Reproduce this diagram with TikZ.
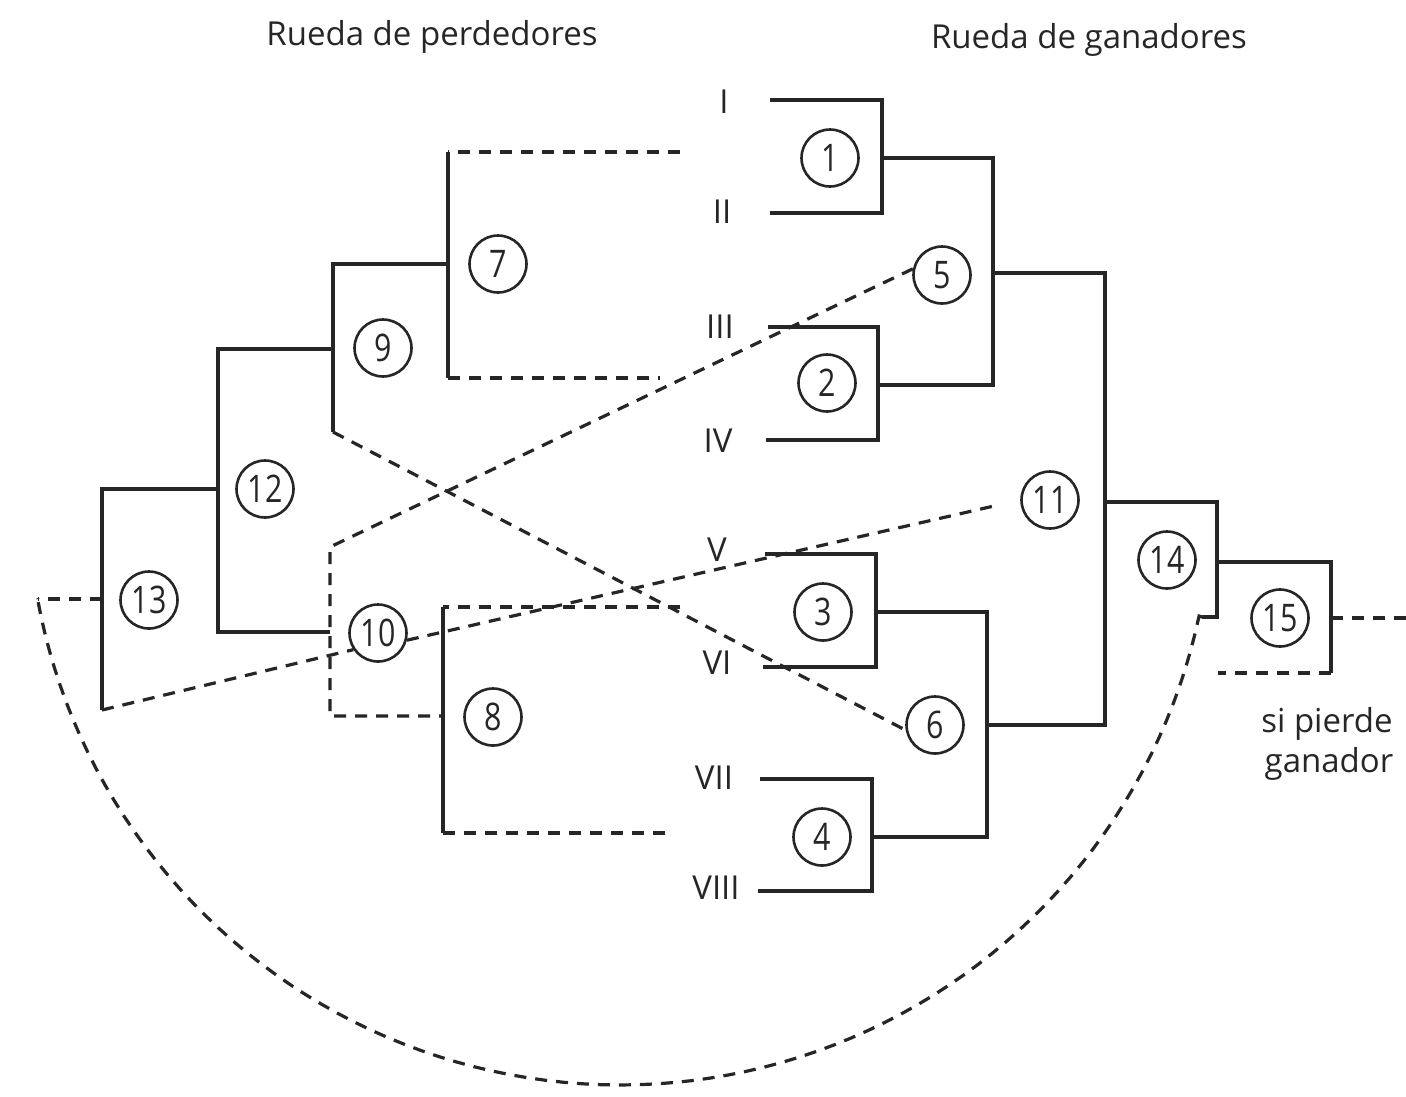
\documentclass[tikz,border=0pt]{standalone}
\usepackage{fontspec}
\setmainfont{Open Sans}
\newfontfamily\numfont[FakeStretch=0.8]{Open Sans}
\begin{document}
\begin{tikzpicture}[x=1pt,y=-1pt, color=black!85,
  bracket/.style={draw, line width=3.2pt, line join=miter},
  link/.style={draw, line width=3.2pt, dash pattern=on 12pt off 9pt},
  match/.style={circle, draw, line width=2.6pt, minimum size=57pt,
    inner sep=0pt, fill=white, font=\numfont\fontsize{38}{38}\selectfont},
  seed/.style={inner sep=0pt, font=\fontsize{33}{33}\selectfont},
  heading/.style={inner sep=0pt, anchor=base, font=\fontsize{33}{40}\selectfont},
  note/.style={inner sep=0pt, anchor=base, font=\fontsize{33}{40}\selectfont}]
\useasboundingbox (0,0) rectangle (1406,1096);

% headings
\node[heading] (hl) at (432,45) {Rueda de perdedores};
\node[heading] (hw) at (1089,48) {Rueda de ganadores};

% seeds
\node[seed] (r1) at (724,102) {I};
\node[seed] (r2) at (722,212) {II};
\node[seed] (r3) at (720,327) {III};
\node[seed] (r4) at (718,441) {IV};
\node[seed] (r5) at (717,550) {V};
\node[seed] (r6) at (717,663) {VI};
\node[seed] (r7) at (714,778) {VII};
\node[seed] (r8) at (716,888) {VIII};

% winners bracket
\coordinate (a1) at (770,100);  \coordinate (b1) at (770,213);
\coordinate (a2) at (768,327);  \coordinate (b2) at (766,440);
\coordinate (a3) at (765,554);  \coordinate (b3) at (763,667);
\coordinate (a4) at (760,779);  \coordinate (b4) at (758,891);
\coordinate (o1) at (882,158);
\coordinate (o2) at (878,385);
\coordinate (o3) at (876,612);
\coordinate (o4) at (872,837);
\coordinate (o5) at (993,273);
\coordinate (o6) at (987,725);
\coordinate (o11) at (1105,502);
\coordinate (o14) at (1217,562);
\coordinate (j14) at (1202,617);
\coordinate (o15) at (1331,618);
\coordinate (k15) at (1331,673);
\coordinate (b15) at (1218,673);
\coordinate (e15) at (1406,618);

\draw[bracket] (a1) -| (o1) |- (b1);
\draw[bracket] (a2) -| (o2) |- (b2);
\draw[bracket] (a3) -| (o3) |- (b3);
\draw[bracket] (a4) -| (o4) |- (b4);
\draw[bracket] (o1) -| (o5) |- (o2);
\draw[bracket] (o3) -| (o6) |- (o4);
\draw[bracket] (o5) -| (o11) |- (o6);
\draw[bracket] (o11) -| (o14) |- (j14);
\draw[bracket] (o14) -| (o15) -- (k15);
\draw[link] (k15) -- (b15);
\draw[link] (o15) -- (e15);

% losers bracket
\coordinate (t7) at (680,152);  \coordinate (c7a) at (448,152);
\coordinate (c7b) at (448,378); \coordinate (u7) at (660,378);
\coordinate (o7) at (448,264);
\coordinate (o9) at (333,349);  \coordinate (c9) at (333,432);
\coordinate (o12) at (218,489); \coordinate (o10) at (330,632);
\coordinate (c10t) at (330,547);
\coordinate (t8) at (680,607);  \coordinate (c8a) at (443,607);
\coordinate (c8b) at (443,833); \coordinate (u8) at (667,833);
\coordinate (o8) at (443,716);
\coordinate (o13) at (102,599); \coordinate (c13b) at (102,710);
\coordinate (c13l) at (38,599);

\draw[link] (t7) -- (c7a);
\draw[bracket] (c7a) -- (c7b);
\draw[link] (c7b) -- (u7);
\draw[bracket] (o7) -| (o9) -- (c9);
\draw[bracket] (o9) -| (o12) |- (o10);
\draw[link] (t8) -- (c8a);
\draw[bracket] (c8a) -- (c8b);
\draw[link] (c8b) -- (u8);
\draw[bracket] (o12) -| (o13) -- (c13b);
\draw[link] (o13) -- (c13l);

% match circles
\node[match] (n1) at (830,158) {1};
\node[match] (n2) at (827,383) {2};
\node[match] (n3) at (823,612) {3};
\node[match] (n4) at (822,837) {4};
\node[match] (n5) at (942,275) {5};
\node[match] (n6) at (935,725) {6};
\node[match] (n7) at (498,264) {7};
\node[match] (n8) at (493,717) {8};
\node[match] (n9) at (383,348) {9};
\node[match] (n10) at (378,633) {10};
\node[match] (n11) at (1050,500) {11};
\node[match] (n12) at (265,489) {12};
\node[match] (n13) at (149,600) {13};
\node[match] (n14) at (1167,560) {14};
\node[match] (n15) at (1280,618) {15};

% losers dropping across
\draw[link] (c9) -- (n6.190);
\draw[link] (n5.168) -- (c10t) |- (o8);
\draw[link] (c13b) -- (n10.214);
\draw[link, shorten >=22pt] (n10.346) -- (n11.west);
\draw[link] (j14) -- plot[domain=12:170, samples=90]
  ({620+592*cos(\x)},{493+592*sin(\x)}) -- (c13l);

% note
\node[note] (s1) at (1327,732) {si pierde};
\node[note] (s2) at (1329,772) {ganador};
\end{tikzpicture}
\end{document}
